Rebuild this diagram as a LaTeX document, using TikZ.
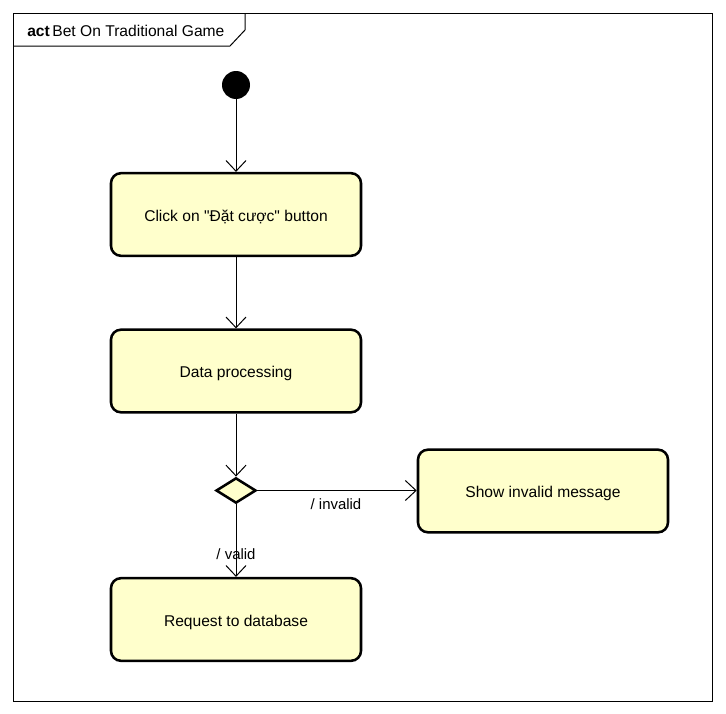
\documentclass[tikz,border=0pt]{standalone}
\usepackage{fontspec}
\setmainfont{Liberation Sans}
\usetikzlibrary{arrows.meta,shapes.geometric}
\definecolor{actfill}{HTML}{FFFFCC}
% action label, set a little below the box centre
\newcommand{\actlabel}[1]{\raisebox{-1.5pt}{#1}}
\begin{document}
\begin{tikzpicture}[x=0.75pt,y=-0.75pt,
  action/.style={draw,line width=1.9pt,rounded corners=7.5pt,fill=actfill,
    minimum width=187.5pt,minimum height=62pt,inner sep=0pt,
    font=\fontsize{11.7}{13}\selectfont,text depth=0pt},
  flow/.style={draw,line width=0.75pt,-{Straight Barb[length=8pt,width=15pt,line width=0.75pt]}},
  decision/.style={diamond,draw,line width=1.9pt,fill=actfill,
    minimum width=30pt,minimum height=19pt,inner sep=0pt,aspect=1.6},
  guard/.style={font=\fontsize{11.2}{13}\selectfont,inner sep=1pt}]
  \useasboundingbox (0,0) rectangle (726,714);
  % frame with name tab
  \draw[line width=0.75pt] (13,13) rectangle (712,701);
  \draw[line width=0.75pt] (245,13) -- (245,30) -- (230,46) -- (13,46);
  \node[anchor=west,inner sep=0pt,font=\fontsize{11.7}{13}\selectfont] (title) at (27,31)
    {\textbf{act}\,Bet On Traditional Game};
  % nodes
  \node[circle,fill=black,minimum size=21pt,inner sep=0pt] (start) at (236,85) {};
  \node[action] (click) at (236,214.5) {\actlabel{Click on \textquotedbl Đặt cược\textquotedbl{} button}};
  \node[action] (proc) at (236,371) {\actlabel{Data processing}};
  \node[decision] (dec) at (236,490.5) {};
  \node[action] (show) at (543,491) {\actlabel{Show invalid message}};
  \node[action] (req) at (236,619.5) {\actlabel{Request to database}};
  % flows
  \draw[flow] (start) -- (click);
  \draw[flow] (click) -- (proc);
  \draw[flow] (proc) -- (dec);
  \draw[flow] (dec.east) -- (show.west |- dec.east);
  \draw[flow] (dec) -- (req);
  \node[guard] (ginv) at (336,504) {/ invalid};
  \node[guard] (gval) at (236,554) {/ valid};
\end{tikzpicture}
\end{document}
